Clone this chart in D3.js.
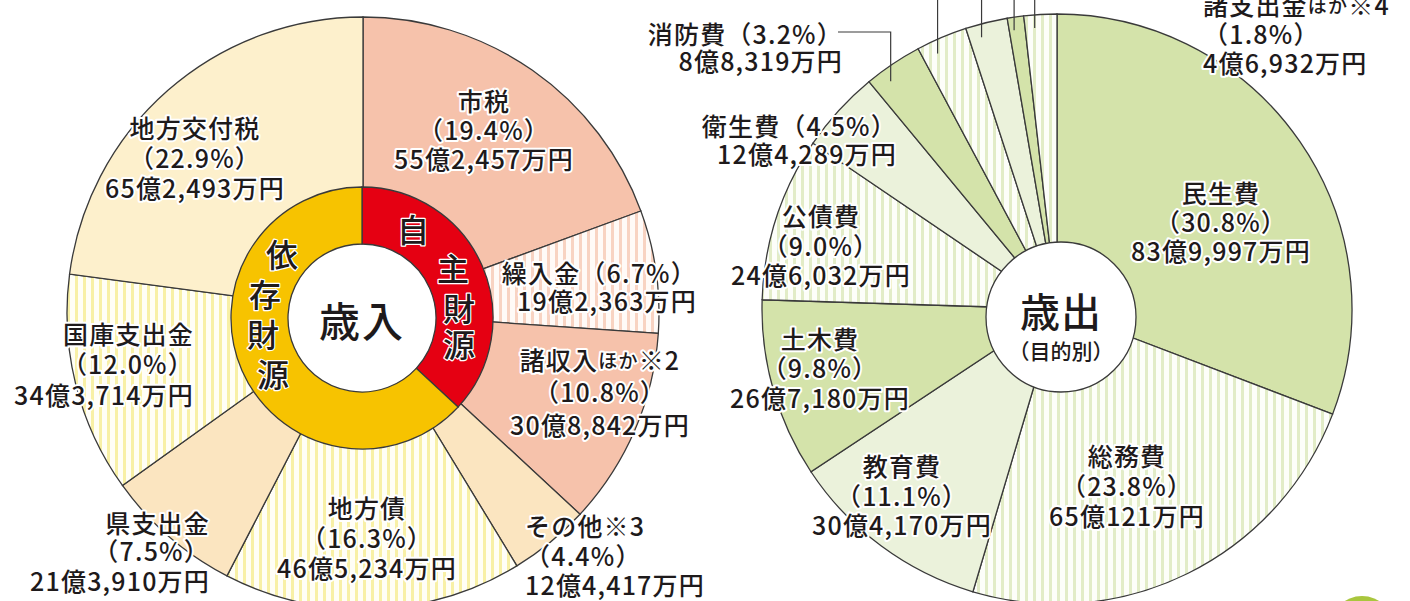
<!DOCTYPE html>
<html>
<head>
<meta charset="utf-8">
<script src="https://cdn.jsdelivr.net/npm/d3@7"></script>
<style>
  body { margin: 0; background: #fff; }
  text { font-family: "Noto Sans CJK JP", "Noto Sans", sans-serif; fill: #1e1a1b; font-weight: 500; }
</style>
</head>
<body>
<div id="viz"></div>
<script>
// 歳入 (clockwise from 12 o'clock)
const revNames = ["市税", "繰入金", "諸収入ほか※2", "その他※3", "地方債", "県支出金", "国庫支出金", "地方交付税"];
const revPct = [19.4, 6.7, 10.8, 4.4, 16.3, 7.5, 12.0, 22.9];
const revAmt = ["55億2,457万円", "19億2,363万円", "30億8,842万円", "12億4,417万円", "46億5,234万円", "21億3,910万円", "34億3,714万円", "65億2,493万円"];

// inner ring of 歳入
const srcNames = ["自主財源", "依存財源"];
const srcPct = [36.9, 63.1];

// 歳出 (目的別), clockwise from 12 o'clock
// three small slices have their labels cut off above the frame
const expNames = ["民生費", "総務費", "教育費", "土木費", "公債費", "衛生費", "消防費", "商工費", "農林水産業費", "議会費", "諸支出金ほか※4"];
const expPct = [30.8, 23.8, 11.1, 9.8, 9.0, 4.5, 3.2, 2.8, 2.3, 0.9, 1.8];
const expAmt = ["83億9,997万円", "65億121万円", "30億4,170万円", "26億7,180万円", "24億6,032万円", "12億4,289万円", "8億8,319万円", null, null, null, "4億6,932万円"];

let w = 1410;
let h = 601;

let svg = d3.select("#viz")
  .append("svg")
  .attr("width", w)
  .attr("height", h)
  .style("display", "block");

let defs = svg.append("defs");

function stripe(id, bg, fg) {
  let p = defs.append("pattern")
    .attr("id", id)
    .attr("patternUnits", "userSpaceOnUse")
    .attr("width", 8)
    .attr("height", 8);
  p.append("rect").attr("width", 8).attr("height", 8).attr("fill", bg);
  p.append("rect").attr("width", 3).attr("height", 8).attr("fill", fg);
}
stripe("stYellow", "#fffef6", "#f8f0a6");
stripe("stPink", "#fffaf7", "#f8d3c2");
stripe("stGreen", "#fdfef9", "#e2ecc7");

const revFill = ["#f6c2ab", "url(#stPink)", "#f6c2ab", "#fbe5c0", "url(#stYellow)", "#fbe5c0", "url(#stYellow)", "#fdf0cc"];
const srcFill = ["#e50012", "#f7c300"];
const expFill = ["#d4e3aa", "url(#stGreen)", "#ebf2db", "#d4e3aa", "url(#stGreen)", "#ebf2db", "#d4e3aa", "url(#stGreen)", "#ebf2db", "#d4e3aa", "url(#stGreen)"];

const lineCol = "#3a3a3a";

// layout
const L = { x: 363, y: 313, r: 296 };
const ring = { x: 362, y: 318, r0: 74, r1: 131 };
const R = { x: 1057, y: 309, r: 295 };
const hole = { x: 1061, y: 317, r: 75 };

const revLabels = {
  "市税": { x: 484, y: [100, 129, 158] },
  "繰入金": { x: 697, y: [272, 300], anchor: "end", inline: true },
  "諸収入ほか※2": { x: 600, y: [359, 391, 424] },
  "その他※3": { x: 525, y: [525, 555, 584], anchor: "start" },
  "地方債": { x: 367, y: [507, 537, 567] },
  "県支出金": { x: 210, y: [522, 550, 580], anchor: "end" },
  "国庫支出金": { x: 194, y: [333, 363, 394], anchor: "end" },
  "地方交付税": { x: 195, y: [127, 157, 187] }
};

const expLabels = {
  "民生費": { x: 1221, y: [192, 221, 250] },
  "総務費": { x: 1127, y: [455, 485, 515] },
  "教育費": { x: 902, y: [465, 495, 524] },
  "土木費": { x: 820, y: [338, 367, 397] },
  "公債費": { x: 821, y: [215, 245, 274] },
  "衛生費": { x: 897, y: [125, 153], anchor: "end", inline: true },
  "消防費": { x: 843, y: [33, 60], anchor: "end", inline: true, leader: { y: 32, x: 838 } },
  "商工費": { leader: "up" },
  "農林水産業費": { leader: "up" },
  "議会費": { leader: "up" },
  "諸支出金ほか※4": { x: 1203, y: [4, 33, 62], anchor: "start", leader: "up" }
};

let pie = d3.pie().sort(null).value(d => d.pct);

// ---------- 歳入 ----------
let revData = revNames.map((n, i) => ({ name: n, pct: revPct[i], amt: revAmt[i], fill: revFill[i] }));
let gL = svg.append("g").attr("transform", `translate(${L.x},${L.y})`);
let arcL = d3.arc().innerRadius(0).outerRadius(L.r);

gL.selectAll("path")
  .data(pie(revData))
  .join("path")
  .attr("d", arcL)
  .attr("fill", d => d.data.fill)
  .attr("stroke", lineCol)
  .attr("stroke-width", 1.3);

let srcData = srcNames.map((n, i) => ({ name: n, pct: srcPct[i], fill: srcFill[i] }));
let gRing = svg.append("g").attr("transform", `translate(${ring.x},${ring.y})`);
gRing.append("circle").attr("r", ring.r0).attr("fill", "#fff");
gRing.selectAll("path")
  .data(pie(srcData))
  .join("path")
  .attr("d", d3.arc().innerRadius(ring.r0).outerRadius(ring.r1))
  .attr("fill", d => d.data.fill)
  .attr("stroke", lineCol)
  .attr("stroke-width", 1.3);

gRing.append("text")
  .attr("text-anchor", "middle")
  .attr("dominant-baseline", "central")
  .attr("y", 1)
  .style("font-size", "41px")
  .style("letter-spacing", "2px")
  .text("歳入");

// vertical ring captions, one char at a time
const ringChars = {
  "自主財源": [[51, -90], [91, -51], [97, -11], [97, 25]],
  "依存財源": [[-80, -65], [-97, -25], [-99, 15], [-89, 55]]
};
srcNames.forEach(n => {
  n.split("").forEach((c, i) => {
    gRing.append("text")
      .attr("x", ringChars[n][i][0])
      .attr("y", ringChars[n][i][1])
      .attr("text-anchor", "middle")
      .attr("dominant-baseline", "central")
      .style("font-size", "32px")
      .style("stroke", "#fff")
      .style("stroke-width", 2.5)
      .style("paint-order", "stroke")
      .style("stroke-linejoin", "round")
      .text(c);
  });
});

// ---------- 歳出 ----------
let expData = expNames.map((n, i) => ({ name: n, pct: expPct[i], amt: expAmt[i], fill: expFill[i] }));
let gR = svg.append("g").attr("transform", `translate(${R.x},${R.y})`);
let arcR = d3.arc().innerRadius(0).outerRadius(R.r);
let expArcs = pie(expData);

gR.selectAll("path")
  .data(expArcs)
  .join("path")
  .attr("d", arcR)
  .attr("fill", d => d.data.fill)
  .attr("stroke", lineCol)
  .attr("stroke-width", 1.3);

// leader lines for the thin slices at the top
expArcs.forEach(d => {
  let cfg = expLabels[d.data.name];
  if (!cfg || !cfg.leader) return;
  let a = d.startAngle + 0.3 * (d.endAngle - d.startAngle);
  let px = Math.sin(a) * 282;
  let py = -Math.cos(a) * 282;
  let pts;
  if (cfg.leader === "up") {
    pts = [[px, py], [px, -R.y - 5]];
  } else {
    pts = [[px, py], [px, cfg.leader.y - R.y], [cfg.leader.x - R.x, cfg.leader.y - R.y]];
  }
  gR.append("path")
    .attr("d", d3.line()(pts))
    .attr("fill", "none")
    .attr("stroke", lineCol)
    .attr("stroke-width", 1.2);
});

let gHole = svg.append("g").attr("transform", `translate(${hole.x},${hole.y})`);
gHole.append("circle")
  .attr("r", hole.r)
  .attr("fill", "#fff")
  .attr("stroke", lineCol)
  .attr("stroke-width", 1.3);
gHole.append("text")
  .attr("text-anchor", "middle")
  .attr("dominant-baseline", "central")
  .attr("y", -7)
  .style("font-size", "40px")
  .style("letter-spacing", "1px")
  .text("歳出");
gHole.append("text")
  .attr("text-anchor", "middle")
  .attr("dominant-baseline", "central")
  .attr("y", 33)
  .style("font-size", "21px")
  .text("（目的別）");

// ---------- labels ----------
function addLine(g, x, y, anchor, str) {
  let t = g.append("text")
    .attr("x", x)
    .attr("y", y)
    .attr("text-anchor", anchor)
    .attr("dominant-baseline", "central")
    .style("font-size", "25px")
    .style("letter-spacing", "1.2px")
    .style("stroke", "#fff")
    .style("stroke-width", 4)
    .style("stroke-linejoin", "round")
    .style("paint-order", "stroke");
  let parts = str.split(/(ほか)/);
  parts.forEach(p => {
    if (!p) return;
    t.append("tspan")
      .style("font-size", p === "ほか" ? "19px" : null)
      .text(p);
  });
}

function drawLabels(data, layout) {
  let g = svg.append("g");
  data.forEach(d => {
    let cfg = layout[d.name];
    if (!cfg || cfg.x === undefined) return;
    let pctStr = `（${d.pct.toFixed(1)}%）`;
    let lines = cfg.inline ? [d.name + pctStr, d.amt] : [d.name, pctStr, d.amt];
    lines.forEach((ln, i) => addLine(g, cfg.x, cfg.y[i], cfg.anchor || "middle", ln));
  });
}
drawLabels(revData, revLabels);
drawLabels(expData, expLabels);

// decorative mark bottom right
svg.append("circle")
  .attr("cx", 1362)
  .attr("cy", 628)
  .attr("r", 32)
  .attr("fill", "#a9c63d");
</script>
</body>
</html>
